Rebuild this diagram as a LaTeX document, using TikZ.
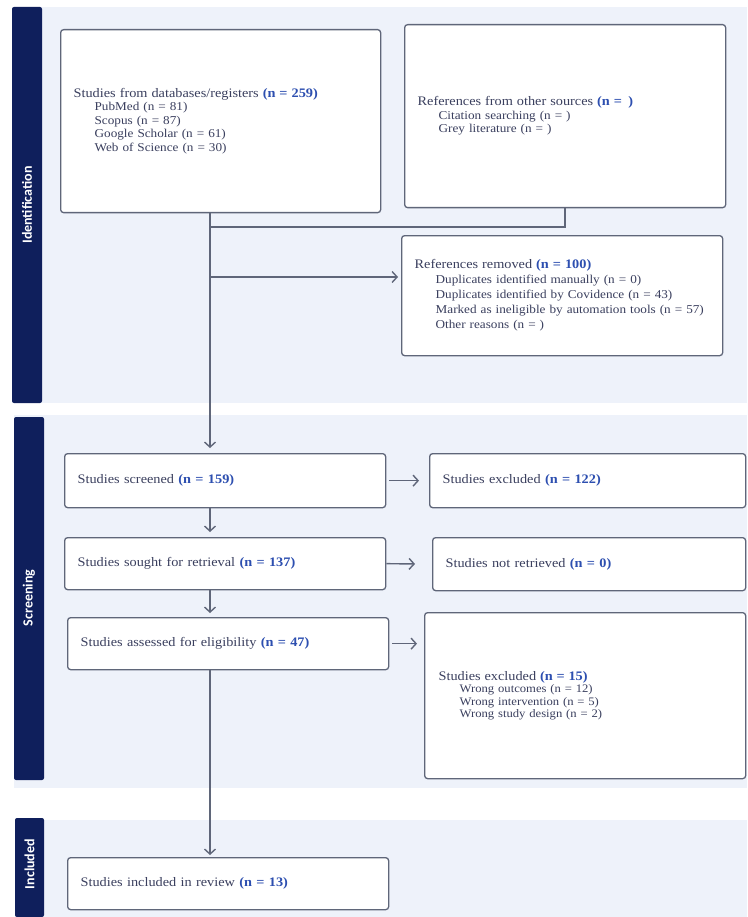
\documentclass[tikz,border=0pt]{standalone}
\usepackage{fontspec}
\setmainfont{Liberation Serif}[FakeStretch=1.1]
\newfontfamily\phasefont{Carlito}
\usepackage{xcolor}
\usepackage{tikz}
\usetikzlibrary{arrows.meta}
\definecolor{prisnavy}{HTML}{0F1F5C}
\definecolor{prisband}{HTML}{EEF2FA}
\definecolor{prisline}{HTML}{5F6679}
\definecolor{pristext}{HTML}{3A3F5E}
\definecolor{prisblue}{HTML}{2D4FB0}
\newcommand{\nval}[1]{\textcolor{prisblue}{\bfseries(n = #1)}}
\newcommand{\mainsize}{\fontsize{13}{13.5}\selectfont}
\newcommand{\indentline}{\hspace*{21pt}}

\begin{document}
\begin{tikzpicture}[x=1pt, y=-1pt,
  box/.style={draw=prisline, line width=1.3pt, fill=white, rounded corners=3pt,
    align=left, anchor=north west, inner xsep=13pt, inner ysep=0pt,
    text=pristext, font=\fontsize{12}{13.5}\selectfont},
  onebox/.style={box, font=\mainsize},
  line/.style={draw=prisline, line width=1.4pt},
  arrow/.style={line, -{Straight Barb[length=5pt,width=11pt]}},
  phase/.style={rotate=90, text=white, font=\phasefont\bfseries\fontsize{14}{14}\selectfont}]
  \useasboundingbox (0,0) rectangle (747,917);

  % Phase bands
  \fill[prisband] (12,7) rectangle (747,403);
  \fill[prisnavy, rounded corners=2pt] (12,7) rectangle (42,403);
  \node[phase] (lblident) at (27,205) {Identification};

  \fill[prisband] (14,415) rectangle (747,788);
  \fill[prisnavy, rounded corners=2pt] (14,417) rectangle (44,780);
  \node[phase] (lblscreen) at (29,598) {Screening};

  \fill[prisband] (15,820) rectangle (747,917);
  \fill[prisnavy, rounded corners=2pt] (15,818) rectangle (44,917);
  \node[phase] (lblincl) at (29.5,864) {Included};

  % Identification
  \node[box, text width=294pt, minimum height=183pt] (db) at (60,29)
    {{\mainsize Studies from databases/registers \nval{259}}\\
     \indentline PubMed (n = 81)\\
     \indentline Scopus (n = 87)\\
     \indentline Google Scholar (n = 61)\\
     \indentline Web of Science (n = 30)};
  \node[box, text width=295pt, minimum height=183pt] (other) at (404,24)
    {{\mainsize References from other sources \nval{\,}}\\
     \indentline Citation searching (n = )\\
     \indentline Grey literature (n = )};
  \node[box, text width=295pt, minimum height=120pt, font=\fontsize{12}{15}\selectfont] (removed) at (401,235)
    {{\mainsize References removed \nval{100}}\\
     \indentline Duplicates identified manually (n = 0)\\
     \indentline Duplicates identified by Covidence (n = 43)\\
     \indentline Marked as ineligible by automation tools (n = 57)\\
     \indentline Other reasons (n = )};

  % Screening
  \node[onebox, text width=295pt, minimum height=54pt] (screened) at (64,453)
    {Studies screened \nval{159}};
  \node[onebox, text width=290pt, minimum height=54pt] (excl) at (429,453)
    {Studies excluded \nval{122}};
  \node[onebox, text width=295pt, minimum height=52pt] (sought) at (64,537)
    {Studies sought for retrieval \nval{137}};
  \node[onebox, text width=287pt, minimum height=53pt] (notret) at (432,537)
    {Studies not retrieved \nval{0}};
  \node[onebox, text width=295pt, minimum height=52pt] (assessed) at (67,617)
    {Studies assessed for eligibility \nval{47}};
  \node[box, text width=293pt, minimum height=166pt, inner xsep=14pt, font=\fontsize{11.5}{12.5}\selectfont] (excl2) at (424,612)
    {{\mainsize Studies excluded \nval{15}}\\
     \indentline Wrong outcomes (n = 12)\\
     \indentline Wrong intervention (n = 5)\\
     \indentline Wrong study design (n = 2)};

  % Included
  \node[onebox, text width=295pt, minimum height=52pt] (included) at (67,857)
    {Studies included in review \nval{13}};

  % Connectors
  \coordinate (trunk) at (210,0);
  \coordinate (merge) at (210,227);
  \coordinate (split) at (210,277);
  \draw[line] (other.south) |- (merge);
  \draw[arrow, shorten >=3pt] (split) -- (split -| removed.west);
  \draw[arrow, shorten >=5pt] (db.south -| trunk) -- (screened.north -| trunk);
  \draw[arrow, shorten >=5pt] (screened.south -| trunk) -- (sought.north -| trunk);
  \draw[arrow, shorten >=4pt] (sought.south -| trunk) -- (assessed.north -| trunk);
  \draw[arrow, shorten >=2pt] (assessed.south -| trunk) -- (included.north -| trunk);
  \draw[arrow, shorten <=3pt, shorten >=10pt] (screened.east) -- (excl.west);
  \draw[arrow, shorten >=17pt] (sought.east) -- (notret.west);
  \draw[arrow, shorten <=3pt, shorten >=7pt] (assessed.east) -- (assessed.east -| excl2.west);
\end{tikzpicture}
\end{document}
